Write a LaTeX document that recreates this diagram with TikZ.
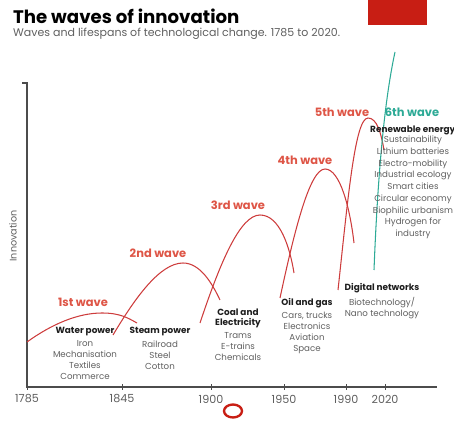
\documentclass[tikz,border=0pt]{standalone}
\usepackage{fontspec}
\setmainfont{Poppins}
\usetikzlibrary{positioning}
\definecolor{ink}{RGB}{30,30,30}
\definecolor{grey}{RGB}{95,95,95}
\definecolor{wred}{RGB}{205,60,60}
\definecolor{lred}{RGB}{222,85,70}
\definecolor{tealsix}{RGB}{45,170,150}
\definecolor{boxred}{RGB}{200,30,20}
\tikzset{
  wave/.style={draw=wred,line width=0.9pt},
  wlbl/.style={text=lred,font=\fontsize{9.8}{10}\selectfont\bfseries,inner sep=0pt},
  era/.style={text=ink,font=\fontsize{7.6}{8.6}\selectfont\bfseries,inner sep=0pt,align=center},
  items/.style={text=grey,font=\fontsize{7.4}{9.4}\selectfont,inner sep=0pt,align=center},
  yr/.style={text=grey,font=\fontsize{9.5}{10}\selectfont,inner sep=0pt},
  axisline/.style={draw=grey!80!black,line width=1.2pt},
}

\begin{document}
\begin{tikzpicture}[x=0.03cm,y=0.03cm]
\useasboundingbox (0,0) rectangle (454,428);
% heading
\fill[boxred] (368,403) rectangle (427,428);
\node[anchor=base west,inner sep=0pt,font=\fontsize{15.5}{16}\selectfont\bfseries] (title) at (13,404) {The waves of innovation};
\node[anchor=base west,inner sep=0pt,text=grey,font=\fontsize{9.4}{10}\selectfont] (sub) at (13,391.5) {Waves and lifespans of technological change. 1785 to 2020.};
% axes
\coordinate (o) at (27,41);
\coordinate (ytop) at (27,345);
\coordinate (xend) at (437,41);
\draw[axisline] (22,345) -- (ytop) -- (o) -- (xend);
\node[text=grey,font=\fontsize{8.2}{9}\selectfont,rotate=90,inner sep=0pt] (inno) at (13,192) {Innovation};
\foreach \x/\yr in {27/1785,122/1845,211/1900,284/1950,346/1990,385/2020}{
  \draw[axisline,line width=0.8pt] (\x,38) -- (\x,44);
  \node[yr] (t\yr) at (\x,29) {\yr};
}
\draw[boxred,line width=2pt] (233,17) ellipse (9 and 6.5);
% the waves
\coordinate (w1s) at (27,86);  \coordinate (w1p) at (102,115); \coordinate (w1e) at (137,105);
\coordinate (w2s) at (113,93); \coordinate (w2p) at (183,165); \coordinate (w2e) at (220,128);
\coordinate (w3s) at (200,105); \coordinate (w3p) at (260,213); \coordinate (w3e) at (294,155);
\coordinate (w4s) at (280,130); \coordinate (w4p) at (325,259); \coordinate (w4e) at (354,185);
\coordinate (w5s) at (338,138); \coordinate (w5p) at (368,310); \coordinate (w5e) at (384,278);
\coordinate (w6s) at (374,158); \coordinate (w6e) at (395,376);
\draw[wave] (w1s) .. controls (52,104) and (78,115) .. (w1p) .. controls (120,115) and (128,110) .. (w1e);
\draw[wave] (w2s) .. controls (135,130) and (160,165) .. (w2p) .. controls (200,165) and (212,145) .. (w2e);
\draw[wave] (w3s) .. controls (220,165) and (240,213) .. (w3p) .. controls (280,213) and (290,180) .. (w3e);
\draw[wave] (w4s) .. controls (295,200) and (310,259) .. (w4p) .. controls (340,259) and (350,220) .. (w4e);
\draw[wave] (w5s) .. controls (348,230) and (355,310) .. (w5p) .. controls (377,310) and (381,295) .. (w5e);
\draw[wave,draw=tealsix] (w6s) .. controls (378,260) and (385,330) .. (w6e);
% wave labels
\node[wlbl] (l1) at (83,126) {1st wave};
\node[wlbl] (l2) at (158,175) {2nd wave};
\node[wlbl] (l3) at (238,223) {3rd wave};
\node[wlbl] (l4) at (305,268) {4th wave};
\node[wlbl] (l5) at (342,316) {5th wave};
\node[wlbl,text=tealsix] (l6) at (412,316) {6th wave};
% what each wave carried
\node[era] (wp) at (85,96) {Water power};
\node[items,below=3.5pt of wp] (wpi) {Iron\\Mechanisation\\Textiles\\Commerce};
\node[era] (sp) at (160,96) {Steam power};
\node[items,below=3.5pt of sp] (spi) {Railroad\\Steel\\Cotton};
\node[era] (ce) at (238,110) {Coal and\\Electricity};
\node[items,below=3.5pt of ce] (cei) {Trams\\E-trains\\Chemicals};
\node[era] (og) at (307,125) {Oil and gas};
\node[items,below=3.5pt of og] (ogi) {Cars, trucks\\Electronics\\Aviation\\Space};
\node[era] (dn) at (382,140) {Digital networks};
\node[items,below=3.5pt of dn] (dni) {Biotechnology/\\Nano technology};
\node[era,anchor=west] (re) at (370,298) {Renewable energy};
\node[items,anchor=north,font=\fontsize{7.4}{10}\selectfont] (rei) at (413,292) {Sustainability\\Lithium batteries\\Electro-mobility\\Industrial ecology\\Smart cities\\Circular economy\\Biophilic urbanism\\Hydrogen for\\industry};
\end{tikzpicture}
\end{document}
